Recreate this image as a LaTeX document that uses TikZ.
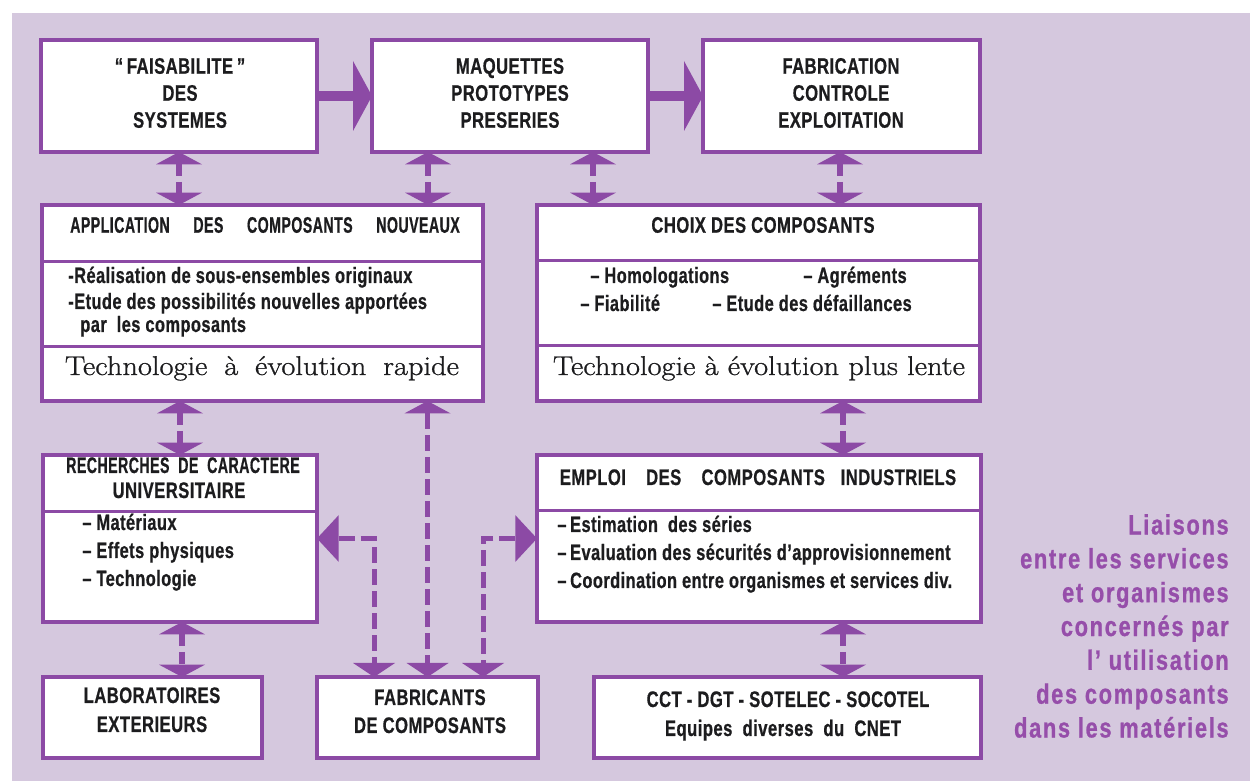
\documentclass[tikz,border=0pt]{standalone}
\usepackage{fontspec}
\usetikzlibrary{arrows.meta}
\newfontfamily\cf{Liberation Sans}[FakeStretch=0.74,LetterSpace=2,FakeBold=0.6]
\newfontfamily\cfn{Liberation Sans}[FakeStretch=0.63,LetterSpace=2,FakeBold=0.6]
\newfontfamily\cfr{Liberation Sans}[FakeStretch=0.78,LetterSpace=6,FakeBold=0.8]
\newfontfamily\serf{Latin Modern Roman}[FakeStretch=1.12,FakeBold=0.9]
\definecolor{bg}{RGB}{213,200,222}
\definecolor{pur}{RGB}{140,74,165}
\definecolor{tpur}{RGB}{150,78,170}
\definecolor{ink}{RGB}{28,28,30}
\newcommand\sg{\hspace{0.62em}}
\tikzset{
  Hb/.tip={Triangle[length=11.4pt,width=42pt,line width=0pt]},
  Hv/.tip={Triangle[length=7.4pt,width=27.6pt,line width=0pt]},
  Hd/.tip={Triangle[length=8.4pt,width=25.2pt,line width=0pt]},
  Hs/.tip={Triangle[length=13pt,width=28pt,line width=0pt]},
  box/.style={draw=pur, line width=2.4pt, fill=white, inner sep=0pt, outer sep=0pt},
  divline/.style={draw=pur, line width=1.8pt},
  ttl/.style={font=\cf\bfseries\fontsize{13.5}{16.2}\selectfont, align=center, text=ink, inner sep=0pt},
  ttln/.style={font=\cfn\bfseries\fontsize{13.5}{16.2}\selectfont, text=ink, inner sep=0pt},
  bul/.style={font=\cf\bfseries\fontsize{13.3}{15}\selectfont, text=ink, inner sep=0pt, anchor=base west},
  ser/.style={font=\serf\fontsize{16.3}{19}\selectfont, text=ink, inner sep=0pt, anchor=base},
  rtxt/.style={font=\cfr\bfseries\fontsize{16.8}{20.3}\selectfont, text=tpur, align=right, inner sep=0pt},
  bigarrow/.style={draw=pur, line width=6pt, -Hb},
  dbl/.style={draw=pur, line width=3.6pt, Hv-Hv, dash pattern=on 7pt off 3.6pt},
  lng/.style={draw=pur, line width=3pt, dash pattern=on 9.6pt off 3.6pt},
}
\begin{document}
\begin{tikzpicture}[x=0.6pt,y=-0.6pt]
\useasboundingbox (0,0) rectangle (1250,781);
\fill[white] (0,0) rectangle (1250,781);
\fill[bg] (12,13) rectangle (1250,781);

% boxes
\node[box, minimum width=165.6pt, minimum height=67.2pt] (fais) at (179,96) {};
\node[box, minimum width=165.6pt, minimum height=67.2pt] (maq) at (510,96) {};
\node[box, minimum width=166.2pt, minimum height=67.2pt] (fab) at (841.5,96) {};
\node[box, minimum width=264.6pt, minimum height=117.6pt] (appl) at (262.5,303) {};
\node[box, minimum width=265.8pt, minimum height=117.6pt] (choix) at (758.5,303) {};
\node[box, minimum width=164.4pt, minimum height=100.2pt] (rech) at (180,538.5) {};
\node[box, minimum width=266.4pt, minimum height=100.2pt] (emploi) at (759,538.5) {};
\node[box, minimum width=131.4pt, minimum height=48.6pt] (lab) at (152.5,717.5) {};
\node[box, minimum width=132.6pt, minimum height=48.6pt] (fabc) at (427.5,717.5) {};
\node[box, minimum width=232.2pt, minimum height=48.6pt] (cct) at (787.5,717.5) {};

% helper coordinates
\coordinate (d1) at (0,262);
\coordinate (d2) at (0,347);
\coordinate (d3) at (0,261);
\coordinate (d4) at (0,346);
\coordinate (d5) at (0,512);
\coordinate (d6) at (0,511);
\coordinate (c428) at (428,0);
\coordinate (c593) at (593,0);
\coordinate (c840) at (840,0);
\coordinate (c843) at (843,0);
\coordinate (c182) at (182,0);
\coordinate (c374) at (374,0);
\coordinate (c483) at (483,0);

% dividers
\draw[divline] (appl.west |- d1) -- (appl.east |- d1);
\draw[divline] (appl.west |- d2) -- (appl.east |- d2);
\draw[divline] (choix.west |- d3) -- (choix.east |- d3);
\draw[divline] (choix.west |- d4) -- (choix.east |- d4);
\draw[divline] (rech.west |- d5) -- (rech.east |- d5);
\draw[divline] (emploi.west |- d6) -- (emploi.east |- d6);

% big arrows
\draw[bigarrow] (fais.east) -- (maq.west);
\draw[bigarrow] (maq.east) -- (fab.west);

% short double arrows
\draw[dbl] (fais.south) -- (fais.south |- appl.north);
\draw[dbl] (c428 |- maq.south) -- (c428 |- appl.north);
\draw[dbl] (c593 |- maq.south) -- (c593 |- choix.north);
\draw[dbl] (c840 |- fab.south) -- (c840 |- choix.north);
\draw[dbl] (rech.north |- appl.south) -- (rech.north);
\draw[dbl] (c843 |- choix.south) -- (c843 |- emploi.north);
\draw[dbl] (c182 |- rech.south) -- (c182 |- lab.north);
\draw[dbl] (c843 |- emploi.south) -- (c843 |- cct.north);

% long dashed arrows
\draw[lng, Hv-Hd] (fabc.north |- appl.south) -- (fabc.north);
\draw[lng, Hs-Hd] (rech.east) -| (c374 |- fabc.north);
\draw[lng, Hs-Hd] (emploi.west) -| (c483 |- fabc.north);

% texts top row
\node[ttl] (tfais) at (180,93) {“\,FAISABILITE\,”\\DES\\SYSTEMES};
\node[ttl] (tmaq) at (510,93) {MAQUETTES\\PROTOTYPES\\PRESERIES};
\node[ttl] (tfab) at (841,93) {FABRICATION\\CONTROLE\\EXPLOITATION};

% application
\node[ttln] (tappl) at (265,225) {APPLICATION\hspace{1.05em}DES\hspace{1.05em}COMPOSANTS\hspace{1.05em}NOUVEAUX};
\node[bul] (a1) at (68,283) {-Réalisation de sous-ensembles originaux};
\node[bul] (a2) at (68,309) {-Etude des possibilités nouvelles apportées};
\node[bul] (a3) at (80,332) {par\ \ les composants};
\node[ser] (a4) at (262,375) {Technologie\sg à\sg évolution\sg rapide};

% choix
\node[ttl] (tchoix) at (763,225) {CHOIX DES COMPOSANTS};
\node[bul] (b1) at (590,283) {– Homologations};
\node[bul] (b2) at (803,283) {– Agréments};
\node[bul] (b3) at (580,311) {– Fiabilité};
\node[bul] (b4) at (712,311) {– Etude des défaillances};
\node[ser] (b5) at (759,375) {Technologie à évolution plus lente};

% recherches
\node[ttln, anchor=base] (tr1) at (183,473) {RECHERCHES\ \ DE\ \ CARACTERE};
\node[ttl, anchor=base] (tr2) at (179,498) {UNIVERSITAIRE};
\node[bul] (r1) at (82,530) {– Matériaux};
\node[bul] (r2) at (82,558) {– Effets physiques};
\node[bul] (r3) at (82,586) {– Technologie};

% emploi
\node[ttl, anchor=base] (te) at (758,485) {EMPLOI\hspace{0.9em}DES\hspace{0.9em}COMPOSANTS\hspace{0.7em}INDUSTRIELS};
\node[bul] (e1) at (557,532) {–\,Estimation\ \ des séries};
\node[bul] (e2) at (557,560) {–\,Evaluation des sécurités d’approvisionnement};
\node[bul] (e3) at (557,588) {–\,Coordination entre organismes et services div.};

% bottom row
\node[ttl, anchor=base] (l1) at (152,703) {LABORATOIRES};
\node[ttl, anchor=base] (l2) at (152,732) {EXTERIEURS};
\node[ttl, anchor=base] (f1) at (430,705) {FABRICANTS};
\node[ttl, anchor=base] (f2) at (430,733) {DE COMPOSANTS};
\node[ttl, anchor=base] (c1) at (788,707) {CCT - DGT - SOTELEC - SOCOTEL};
\node[ttl, anchor=base] (c2) at (783,736) {Equipes\ \ diverses\ \ du\ \ CNET};

% right caption
\node[rtxt, anchor=east] (cap) at (1229,626) {Liaisons\\entre les services\\et organismes\\concernés par\\l’ utilisation\\des composants\\dans les matériels};
\end{tikzpicture}
\end{document}
